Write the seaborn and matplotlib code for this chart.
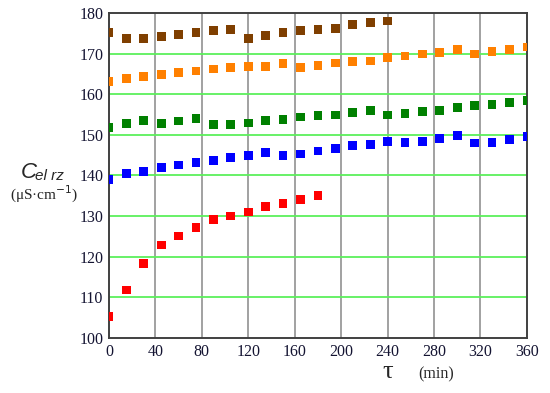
import numpy as np
import pandas as pd
import matplotlib
matplotlib.use("Agg")
import matplotlib.pyplot as plt
import seaborn as sns

# tiempos de medida (min), cada 15 min
t_brown = list(range(0, 241, 15))
t_orange = list(range(0, 361, 15))
t_green = list(range(0, 361, 15))
t_blue = list(range(0, 361, 15))
t_red = list(range(0, 181, 15))

c_brown = [175.2, 173.7, 173.7, 174.3, 174.7, 175.1, 175.6, 176.0, 173.7, 174.4,
           175.1, 175.6, 176.0, 176.2, 177.2, 177.6, 178.0]
c_orange = [163.2, 163.9, 164.3, 164.8, 165.4, 165.7, 166.2, 166.5, 166.9, 166.9,
            167.6, 166.5, 167.1, 167.7, 168.1, 168.2, 169.0, 169.4, 169.9, 170.3,
            171.0, 169.9, 170.6, 171.0, 171.6]
c_green = [151.8, 152.7, 153.5, 152.7, 153.4, 154.1, 152.5, 152.5, 152.9, 153.5,
           153.8, 154.4, 154.8, 154.9, 155.5, 156.0, 154.9, 155.3, 155.8, 156.0,
           156.7, 157.2, 157.5, 158.0, 158.4]
c_blue = [139.1, 140.4, 140.9, 141.9, 142.6, 143.1, 143.6, 144.5, 144.9, 145.7,
          144.9, 145.3, 146.0, 146.6, 147.3, 147.7, 148.4, 148.2, 148.4, 149.1,
          149.9, 148.0, 148.2, 148.9, 149.6]
c_red = [105.3, 111.8, 118.3, 122.9, 125.1, 127.2, 129.2, 130.0, 131.0, 132.4,
         133.1, 134.1, 135.0]

series = ["s1", "s2", "s3", "s4", "s5"]
colors = ["#7f3f00", "#ff8000", "#008000", "#0000ff", "#ff0000"]

x_ticks = [0, 40, 80, 120, 160, 200, 240, 280, 320, 360]
y_ticks = [100, 110, 120, 130, 140, 150, 160, 170, 180]

rows = []
for name, tt, cc in zip(series, [t_brown, t_orange, t_green, t_blue, t_red],
                        [c_brown, c_orange, c_green, c_blue, c_red]):
    for a, b in zip(tt, cc):
        rows.append({"t": a, "c": b, "serie": name})
df = pd.DataFrame(rows)

sns.set_style("white")
plt.rcParams["font.family"] = ["Liberation Serif", "DejaVu Serif"]

fig = plt.figure(figsize=(5.5, 3.93), dpi=100)
ax = fig.add_axes([0.198, 0.140, 0.760, 0.827])

# rejilla: verticales grises, horizontales verdes
for xv in x_ticks[1:-1]:
    ax.axvline(xv, color="#9a9a9a", lw=1.3, zorder=1)
for yv in y_ticks[1:-1]:
    ax.axhline(yv, color="#5cf05c", lw=1.3, zorder=1)

sns.scatterplot(data=df, x="t", y="c", hue="serie", palette=colors,
                marker="s", s=40, edgecolor="none", legend=False,
                ax=ax, zorder=3)

ax.set_xlim(0, 360)
ax.set_ylim(100, 180)
ax.set_xticks(x_ticks)
ax.set_yticks(y_ticks)
ax.tick_params(length=0, labelsize=11.5, labelcolor="#141432", pad=4)
ax.set_xlabel("")
ax.set_ylabel("")
for sp in ax.spines.values():
    sp.set_color("#404040")
    sp.set_linewidth(1.4)

# etiquetas de los ejes
fig.text(21 / 550, 1 - 172 / 393, "C", fontsize=16, style="italic",
         family="Liberation Sans", va="center", ha="left")
fig.text(35 / 550, 1 - 176 / 393, "el rz", fontsize=11, style="italic",
         family="Liberation Sans", va="center", ha="left")
fig.text(44 / 550, 1 - 194 / 393, "(μS·cm$^{-1}$)", fontsize=11,
         va="center", ha="center")
fig.text(388 / 550, 1 - 372 / 393, "τ", fontsize=19, va="center", ha="center")
fig.text(436 / 550, 1 - 374 / 393, "(min)", fontsize=11.5, va="center", ha="center")

fig.savefig("out.png", dpi=100)
